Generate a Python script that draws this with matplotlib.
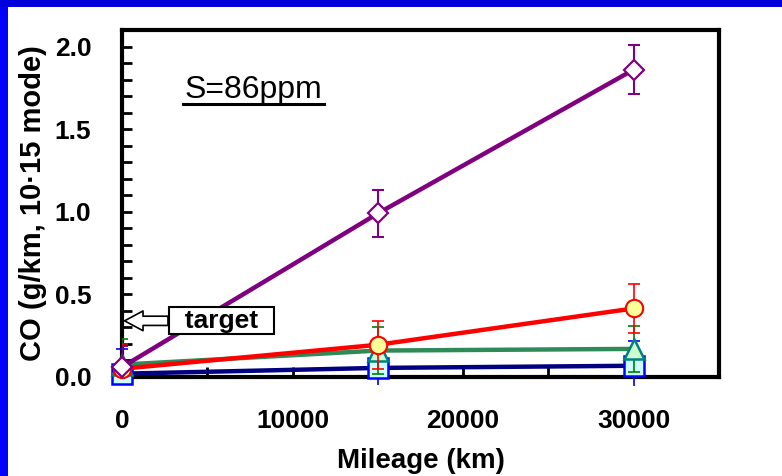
import matplotlib
matplotlib.use("Agg")
import matplotlib.pyplot as plt
from matplotlib.patches import Rectangle
from matplotlib.lines import Line2D
from matplotlib.ticker import MultipleLocator, FixedLocator

plt.rcParams['font.family'] = ['Liberation Sans', 'DejaVu Sans']

mileage = [0, 15000, 30000]

# series values (g/km) and error half-widths
diamond_vals = [0.06, 0.99, 1.86]
diamond_err = [0.13, 0.14, 0.15]

circle_vals = [0.05, 0.195, 0.415]
circle_err = [0.15, 0.145, 0.15]

triangle_vals = [0.075, 0.16, 0.17]
triangle_err = [0.155, 0.14, 0.14]

square_vals = [0.02, 0.055, 0.068]
square_err_up = [0.15, 0.15, 0.15]
square_err_low = [0.07, 0.105, 0.12]

x_ticklabels = [0, 10000, 20000, 30000]
y_ticklabels = [0.0, 0.5, 1.0, 1.5, 2.0]

annot_text = "S=86ppm"
target_text = "target"
target_value = 0.34

fig = plt.figure(figsize=(7.82, 4.76), dpi=100)
fig.patch.set_facecolor('white')

# blue frame
fig.patches.append(Rectangle((0, 0), 8 / 782, 1, transform=fig.transFigure,
                             facecolor='#0000FF', edgecolor='none', zorder=10))
fig.patches.append(Rectangle((0, 1 - 7 / 476), 1, 7 / 476, transform=fig.transFigure,
                             facecolor='#0000DD', edgecolor='none', zorder=10))

ax = fig.add_axes([122 / 782, 1 - 377 / 476, (719 - 122) / 782, (377 - 30) / 476])
ax.set_xlim(0, 35000)
ax.set_ylim(0, 2.1)

lw = 3.2
# navy / blue squares
ax.errorbar(mileage, square_vals, yerr=[[0, 0, 0], square_err_up], fmt='none',
            ecolor='#0000FF', elinewidth=1.2, capsize=4.5, capthick=1.2, clip_on=False, zorder=3)
ax.errorbar(mileage, square_vals, yerr=[square_err_low, [0, 0, 0]], fmt='none',
            ecolor='#0000FF', elinewidth=1.2, capsize=0, clip_on=False, zorder=3)
ax.plot(mileage, square_vals, color='#000080', lw=lw, marker='s', ms=14,
        mfc='#CCFFFF', mec='#0000FF', mew=1.8, clip_on=False, zorder=4)

# green triangles
ax.errorbar(mileage, triangle_vals, yerr=triangle_err, fmt='none',
            ecolor='#008000', elinewidth=1.2, capsize=4.5, capthick=1.2, zorder=5)
ax.plot(mileage, triangle_vals, color='#2E8B57', lw=lw, marker='^', ms=14,
        mfc='#CCFFCC', mec='#008080', mew=1.8, clip_on=False, zorder=6)

# red circles
ax.errorbar(mileage, circle_vals, yerr=circle_err, fmt='none',
            ecolor='#FF0000', elinewidth=1.2, capsize=4.5, capthick=1.2, zorder=7)
ax.plot(mileage, circle_vals, color='#FF0000', lw=lw, marker='o', ms=12.5,
        mfc='#FFFF99', mec='#FF0000', mew=1.5, clip_on=False, zorder=8)

# purple diamonds
ax.errorbar(mileage, diamond_vals, yerr=diamond_err, fmt='none',
            ecolor='#800080', elinewidth=1.5, capsize=4.5, capthick=1.5, zorder=9)
ax.plot(mileage, diamond_vals, color='#800080', lw=lw, marker='D', ms=10.5,
        mfc='white', mec='#800080', mew=1.6, clip_on=False, zorder=10)

# axes styling
for s in ax.spines.values():
    s.set_linewidth(3)
    s.set_color('black')
ax.set_xticks(range(0, 35001, 5000))
ax.set_xticklabels([str(v) if v in x_ticklabels else '' for v in range(0, 35001, 5000)])
ax.yaxis.set_major_locator(FixedLocator(y_ticklabels))
ax.set_yticklabels([f"{v:.1f}" for v in y_ticklabels])
ax.yaxis.set_minor_locator(MultipleLocator(0.1))
ax.tick_params(top=False, right=False)
ax.xaxis.set_tick_params(which='both', direction='in', length=7, width=2,
                         labelsize=19, pad=23)
ax.yaxis.set_tick_params(which='both', direction='in', length=7, width=2,
                         labelsize=19, pad=22)
for lab in ax.get_xticklabels() + ax.get_yticklabels():
    lab.set_fontweight('bold')

ax.set_xlabel("Mileage (km)", fontsize=20, fontweight='bold')
ax.set_ylabel("CO (g/km, 10\u00b715 mode)", fontsize=21, fontweight='bold')
ax.xaxis.set_label_coords(0.5, -0.205)
ax.yaxis.set_label_coords(-0.126, 0.5)

# S=86ppm with underline
t = ax.text(0.1055, 0.804, annot_text, transform=ax.transAxes, fontsize=23,
            ha='left', va='baseline')

# target callout
ax.annotate("  " + target_text + "  ", xy=(150, target_value), xytext=(5833, target_value),
            fontsize=19, fontweight='bold', ha='center', va='center',
            bbox=dict(boxstyle='square,pad=0.05', fc='white', ec='black', lw=1.5),
            arrowprops=dict(arrowstyle='simple,head_length=0.7,head_width=0.75,tail_width=0.35',
                            fc='white', ec='black', lw=1.2, shrinkA=0, shrinkB=0),
            zorder=12)

fig.canvas.draw()
bb = t.get_window_extent()
inv = fig.transFigure.inverted()
(x0, y0), (x1, y1) = inv.transform([(bb.x0, bb.y0), (bb.x1, bb.y0)])
uy = y0 + 1 / 476
fig.add_artist(Line2D([x0 - 2 / 782, x1 + 1 / 782], [uy, uy],
                      transform=fig.transFigure, color='black', lw=2.2))

fig.savefig("out.png", dpi=100)
